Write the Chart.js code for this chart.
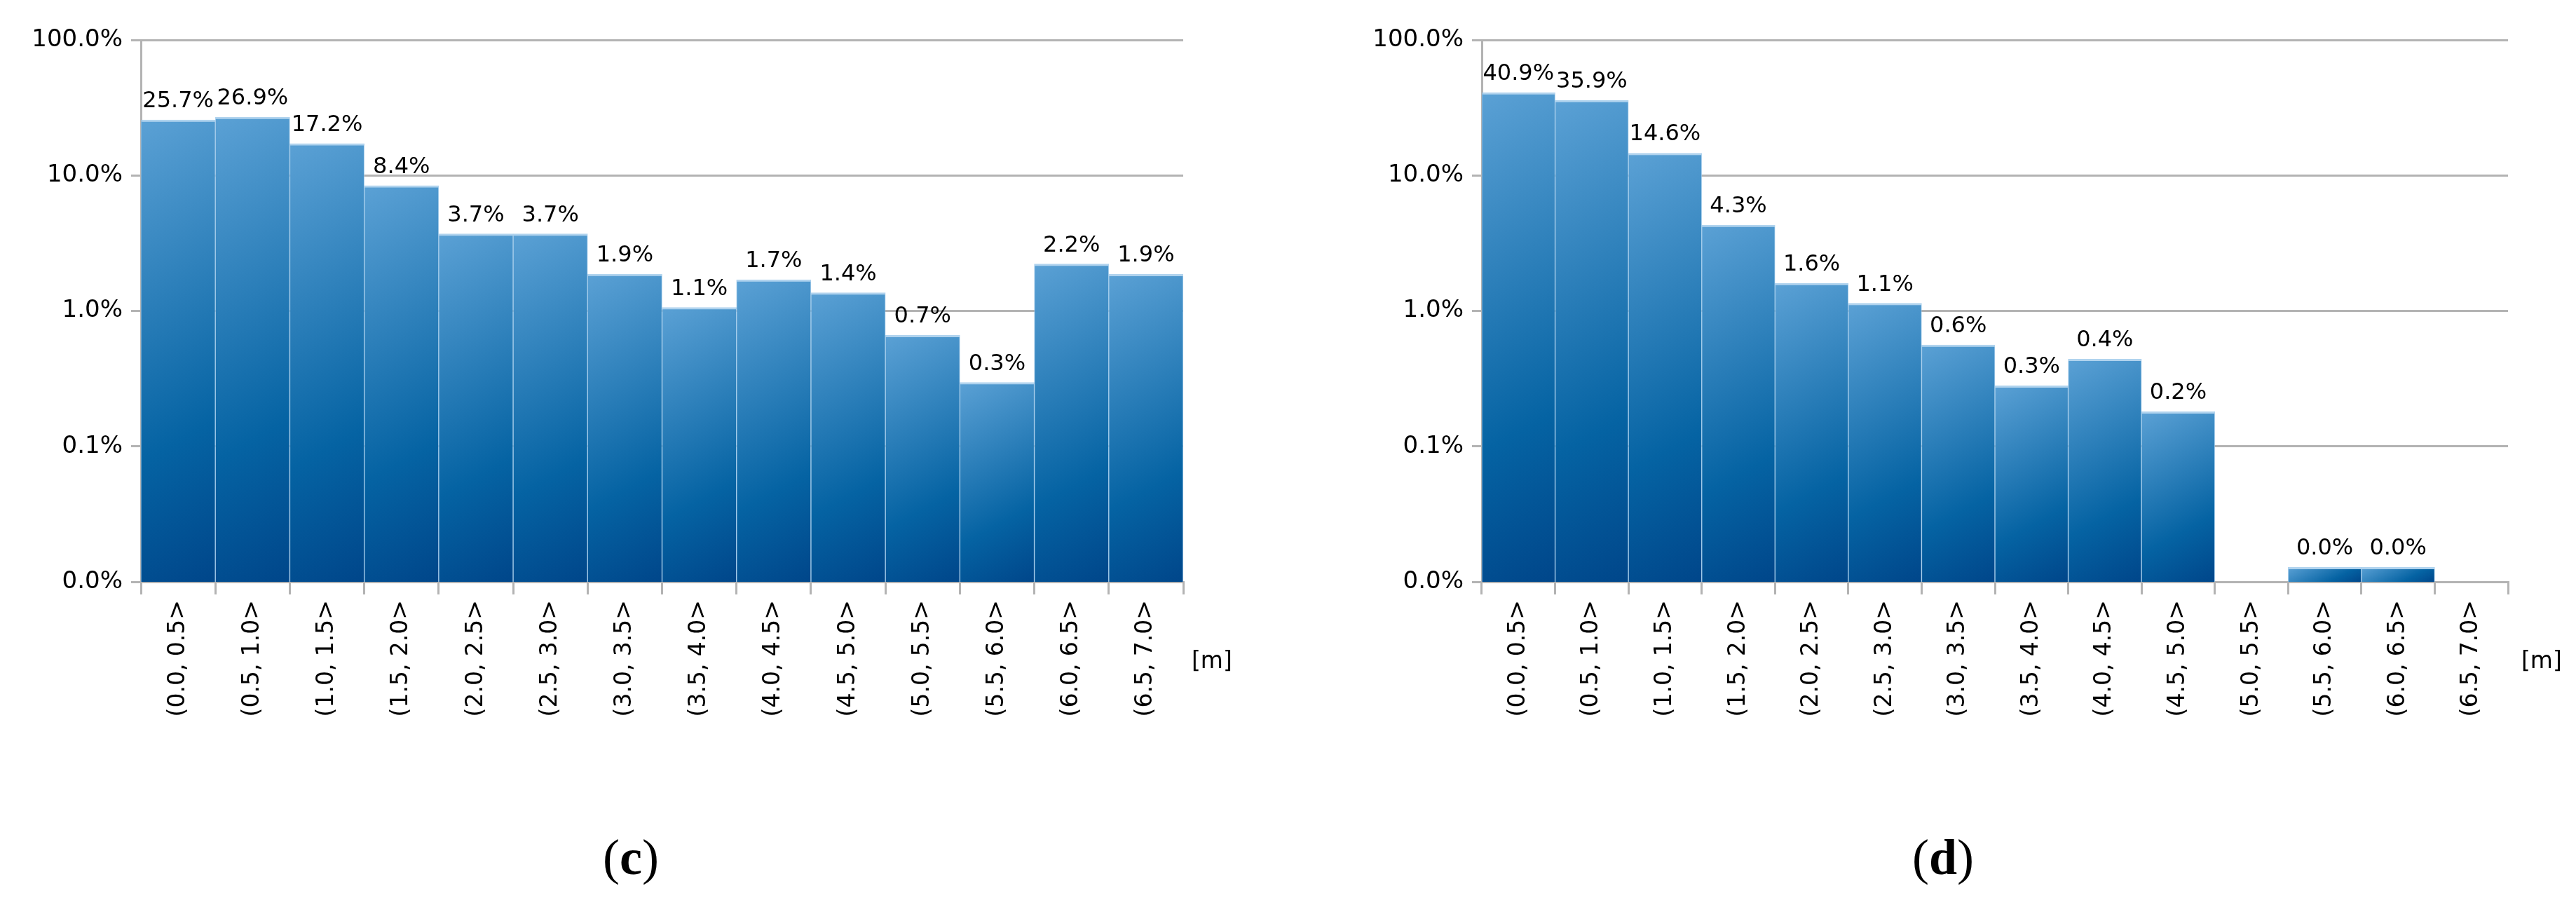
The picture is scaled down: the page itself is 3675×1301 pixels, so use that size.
<!DOCTYPE html>
<html>
<head>
<meta charset="utf-8">
<script src="https://cdn.jsdelivr.net/npm/chart.js@4.4.1/dist/chart.umd.min.js"></script>
<style>
  html, body { margin: 0; padding: 0; background: #ffffff; }
  body { width: 3675px; height: 1301px; position: relative; overflow: hidden; }
  .box { position: absolute; top: 0; height: 1040px; }
  .cap { position: absolute; font-family: "Liberation Serif", "DejaVu Serif", serif; font-size: 72px; line-height: 72px; color: #000; text-align: center; width: 200px; }
  .unit { position: absolute; font-family: "DejaVu Sans", sans-serif; font-size: 33px; line-height: 33px; color: #000; }
</style>
</head>
<body>
<div class="box" style="left:0px; width:1800px;"><canvas id="chartC"></canvas></div>
<div class="box" style="left:1913px; width:1777px;"><canvas id="chartD"></canvas></div>
<div class="unit" style="left:1700px; top:925px;">[m]</div>
<div class="unit" style="left:3597px; top:925px;">[m]</div>
<div class="cap" style="left:800px; top:1187px;">(<b>c</b>)</div>
<div class="cap" style="left:2672px; top:1187px;">(<b>d</b>)</div>
<script>
// ---- data ----
const categories = ['(0.0, 0.5>', '(0.5, 1.0>', '(1.0, 1.5>', '(1.5, 2.0>', '(2.0, 2.5>', '(2.5, 3.0>', '(3.0, 3.5>',
                    '(3.5, 4.0>', '(4.0, 4.5>', '(4.5, 5.0>', '(5.0, 5.5>', '(5.5, 6.0>', '(6.0, 6.5>', '(6.5, 7.0>'];
const valuesC = [25.7, 26.9, 17.2, 8.4, 3.7, 3.7, 1.87, 1.06, 1.7, 1.36, 0.66, 0.296, 2.22, 1.86];
const valuesD = [40.9, 35.9, 14.6, 4.3, 1.6, 1.14, 0.56, 0.28, 0.44, 0.18, null, 0.0128, 0.0128, null];
const yTickValues = [0.01, 0.1, 1, 10, 100];
const yMin = 0.01, yMax = 100;

const GRID = '#b3b3b3';
const FONT = 'DejaVu Sans';

function barGradient(ctx) {
  const chart = ctx.chart;
  const xs = chart.scales.x, ys = chart.scales.y;
  const v = ctx.raw;
  if (v == null || !xs || !ys || !chart.chartArea) return '#2d72ad';
  const n = chart.data.labels.length;
  const w = (xs.right - xs.left) / n;
  const cx = xs.getPixelForValue(ctx.dataIndex);
  const top = ys.getPixelForValue(v);
  const bot = ys.bottom;
  const h = Math.max(bot - top, 1);
  const th = 28 * Math.PI / 180;
  const dx = Math.sin(th), dy = Math.cos(th);
  const L = w * dx + h * dy;
  const mx = cx, my = (top + bot) / 2;
  const g = chart.ctx.createLinearGradient(mx - dx * L / 2, my - dy * L / 2, mx + dx * L / 2, my + dy * L / 2);
  g.addColorStop(0, '#5ba1d5');
  g.addColorStop(0.68, '#0563a3');
  g.addColorStop(1, '#00468a');
  return g;
}

const valueLabels = {
  id: 'valueLabels',
  afterDatasetsDraw(chart) {
    const c = chart.ctx;
    const meta = chart.getDatasetMeta(0);
    const data = chart.data.datasets[0].data;
    c.save();
    c.font = '32px "' + FONT + '"';
    c.fillStyle = '#000';
    c.textAlign = 'center';
    c.textBaseline = 'alphabetic';
    meta.data.forEach((el, i) => {
      const v = data[i];
      if (v == null) return;
      const txt = (Math.round(v * 10) / 10).toFixed(1) + '%';
      c.fillText(txt, el.x, el.y - 18);
    });
    c.restore();
  }
};

function makeChart(id, values) {
  const n = categories.length;
  return new Chart(document.getElementById(id), {
    type: 'bar',
    data: {
      labels: categories,
      datasets: [{
        data: values,
        backgroundColor: barGradient,
        borderColor: 'rgba(150,196,232,0.75)',
        borderWidth: { top: 3, left: 1, right: 1, bottom: 0 },
        borderSkipped: 'bottom',
        barPercentage: 1.0,
        categoryPercentage: 1.0
      }]
    },
    options: {
      responsive: true,
      maintainAspectRatio: false,
      devicePixelRatio: 1,
      animation: false,
      layout: { padding: { left: 0, top: 57, right: 112, bottom: 0 } },
      plugins: { legend: { display: false }, tooltip: { enabled: false }, title: { display: false } },
      scales: {
        x: {
          type: 'category',
          offset: true,
          afterFit: s => { s.height = 210; },
          grid: {
            offset: true,
            drawOnChartArea: true,
            drawTicks: true,
            tickLength: 18,
            lineWidth: 3,
            color: c => (c.index === n ? GRID : 'rgba(0,0,0,0)'),
            tickColor: GRID
          },
          border: { display: true, color: GRID, width: 3 },
          ticks: {
            autoSkip: false,
            minRotation: 90,
            maxRotation: 90,
            padding: 8,
            color: '#000',
            font: { family: FONT, size: 33 }
          }
        },
        y: {
          type: 'logarithmic',
          min: yMin,
          max: yMax,
          afterFit: s => { s.width = 201; },
          afterBuildTicks: s => { s.ticks = yTickValues.map(v => ({ value: v })); },
          grid: { color: GRID, lineWidth: 3, drawTicks: true, tickLength: 14, tickColor: GRID },
          border: { display: true, color: GRID, width: 3 },
          ticks: {
            padding: 12,
            color: '#000',
            font: { family: FONT, size: 34 },
            callback: v => Number(v).toFixed(1) + '%'
          }
        }
      }
    },
    plugins: [valueLabels]
  });
}

makeChart('chartC', valuesC);
makeChart('chartD', valuesD);
</script>
</body>
</html>
